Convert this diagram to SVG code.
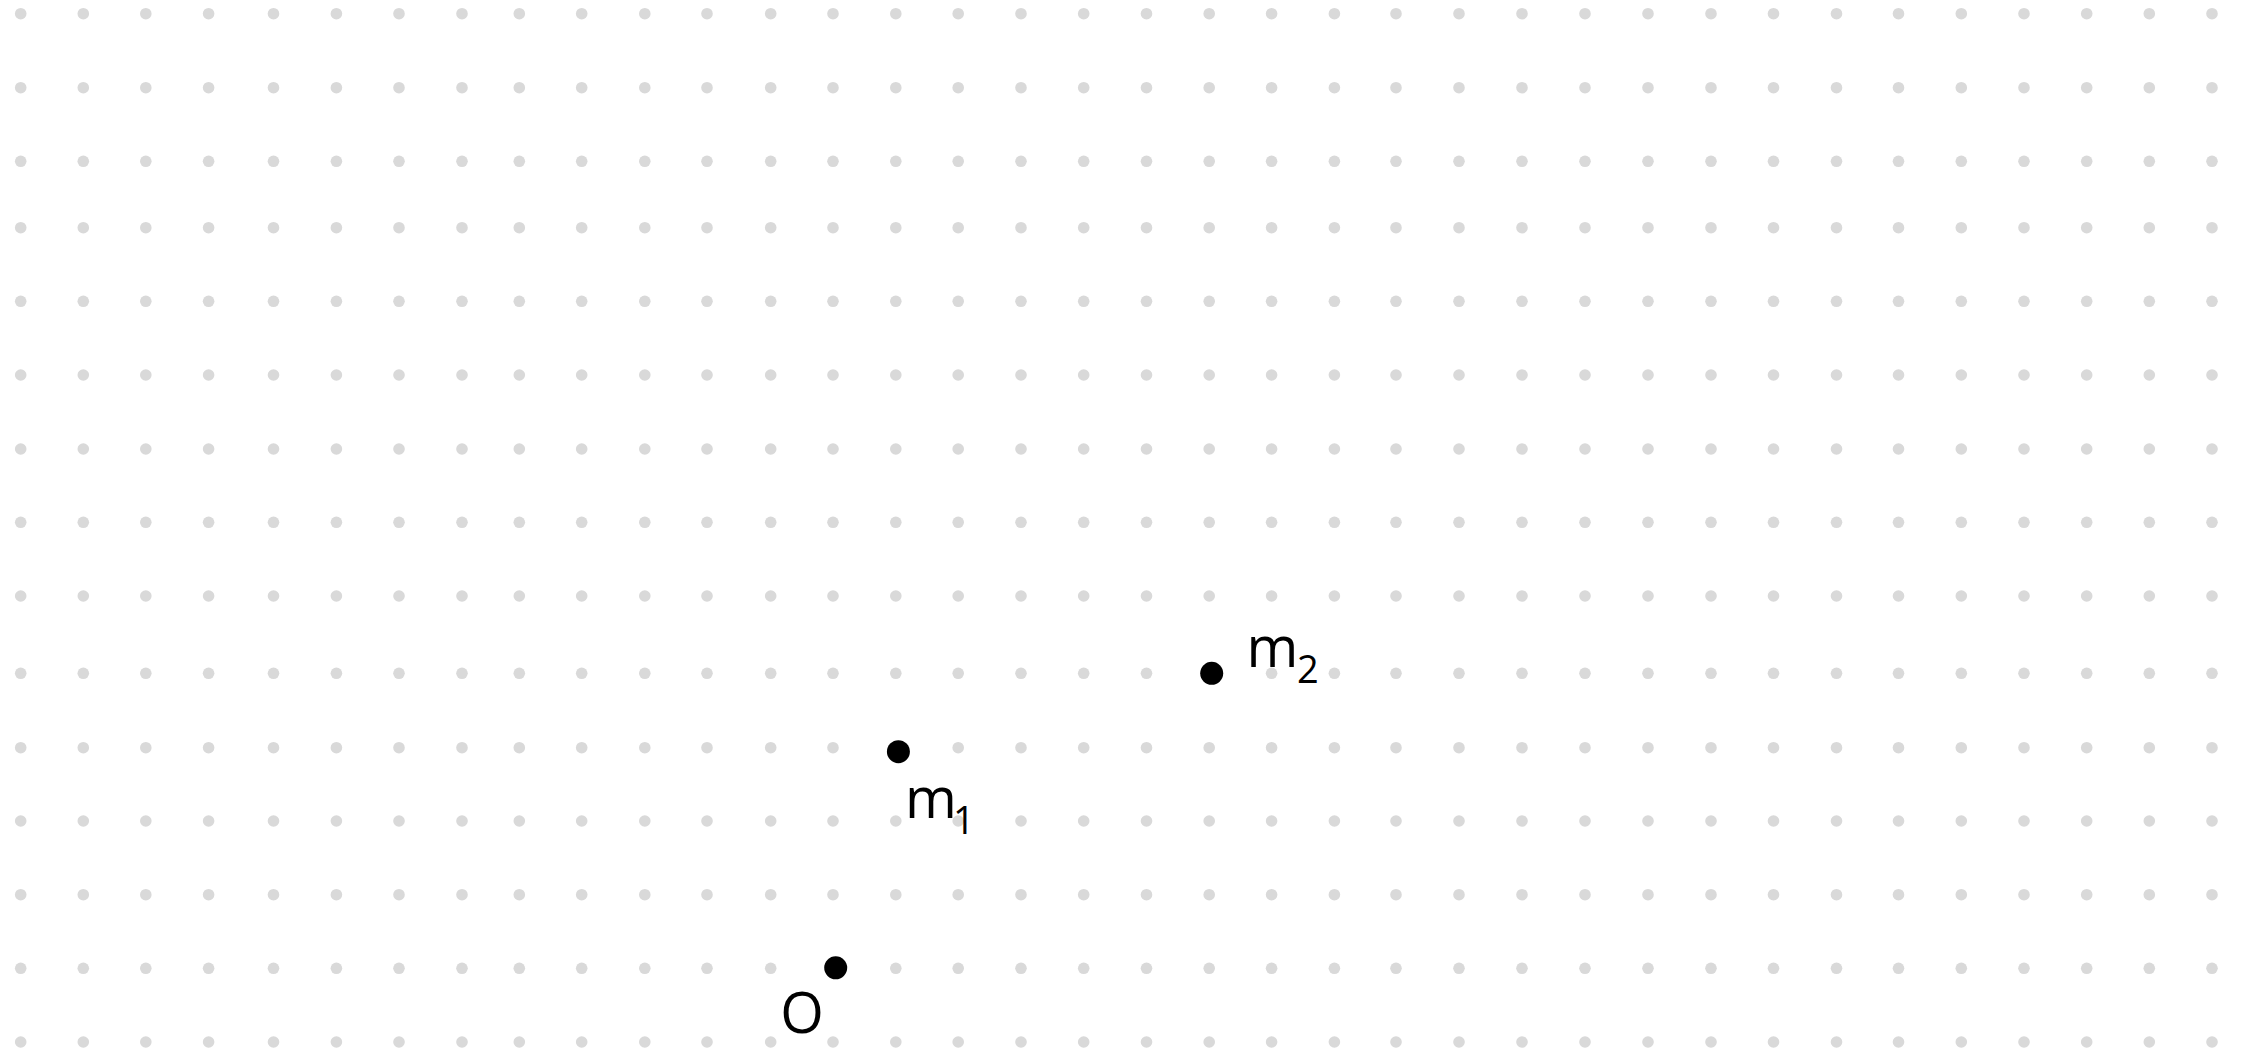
<svg xmlns="http://www.w3.org/2000/svg" xmlns:xlink="http://www.w3.org/1999/xlink" width="2242" height="1052" viewBox="0 0 2242 1052">
  <style>
    .g { fill: #d9d9d9; }
    .pt { fill: #000000; }
    .lbl { font-family: "Open Sans", Lato, "Liberation Sans", sans-serif; font-size: 56px; fill: #000000; }
    .sub { font-family: "Open Sans", Lato, "Liberation Sans", sans-serif; font-size: 38px; fill: #000000; }
  </style>
  <defs>
    <g id="row">
      <circle class="g" cx="20.7" cy="0" r="5.8"/>
      <circle class="g" cx="83.3" cy="0" r="5.8"/>
      <circle class="g" cx="145.8" cy="0" r="5.8"/>
      <circle class="g" cx="208.6" cy="0" r="5.8"/>
      <circle class="g" cx="273.5" cy="0" r="5.8"/>
      <circle class="g" cx="336.4" cy="0" r="5.8"/>
      <circle class="g" cx="399" cy="0" r="5.8"/>
      <circle class="g" cx="462" cy="0" r="5.8"/>
      <circle class="g" cx="519.3" cy="0" r="5.8"/>
      <circle class="g" cx="581.7" cy="0" r="5.8"/>
      <circle class="g" cx="644.8" cy="0" r="5.8"/>
      <circle class="g" cx="707" cy="0" r="5.8"/>
      <circle class="g" cx="770.7" cy="0" r="5.8"/>
      <circle class="g" cx="833" cy="0" r="5.8"/>
      <circle class="g" cx="895.8" cy="0" r="5.8"/>
      <circle class="g" cx="958.2" cy="0" r="5.8"/>
      <circle class="g" cx="1021" cy="0" r="5.8"/>
      <circle class="g" cx="1083.7" cy="0" r="5.8"/>
      <circle class="g" cx="1146.5" cy="0" r="5.8"/>
      <circle class="g" cx="1209.2" cy="0" r="5.8"/>
      <circle class="g" cx="1271.6" cy="0" r="5.8"/>
      <circle class="g" cx="1334.4" cy="0" r="5.8"/>
      <circle class="g" cx="1396" cy="0" r="5.8"/>
      <circle class="g" cx="1459" cy="0" r="5.8"/>
      <circle class="g" cx="1522" cy="0" r="5.8"/>
      <circle class="g" cx="1585" cy="0" r="5.8"/>
      <circle class="g" cx="1648" cy="0" r="5.8"/>
      <circle class="g" cx="1711" cy="0" r="5.8"/>
      <circle class="g" cx="1773.5" cy="0" r="5.8"/>
      <circle class="g" cx="1836.5" cy="0" r="5.8"/>
      <circle class="g" cx="1898.5" cy="0" r="5.8"/>
      <circle class="g" cx="1961.3" cy="0" r="5.8"/>
      <circle class="g" cx="2024" cy="0" r="5.8"/>
      <circle class="g" cx="2086.7" cy="0" r="5.8"/>
      <circle class="g" cx="2149.3" cy="0" r="5.8"/>
      <circle class="g" cx="2212" cy="0" r="5.8"/>
    </g>
  </defs>
  <rect x="0" y="0" width="2242" height="1052" fill="#ffffff"/>
  <g id="grid">
    <use xlink:href="#row" href="#row" y="13.7"/>
    <use xlink:href="#row" href="#row" y="87.7"/>
    <use xlink:href="#row" href="#row" y="161.3"/>
    <use xlink:href="#row" href="#row" y="227.7"/>
    <use xlink:href="#row" href="#row" y="301.3"/>
    <use xlink:href="#row" href="#row" y="375"/>
    <use xlink:href="#row" href="#row" y="449"/>
    <use xlink:href="#row" href="#row" y="522.3"/>
    <use xlink:href="#row" href="#row" y="596"/>
    <use xlink:href="#row" href="#row" y="673.3"/>
    <use xlink:href="#row" href="#row" y="747.7"/>
    <use xlink:href="#row" href="#row" y="821"/>
    <use xlink:href="#row" href="#row" y="894.7"/>
    <use xlink:href="#row" href="#row" y="968.3"/>
    <use xlink:href="#row" href="#row" y="1042"/>
  </g>
  <g id="connectors"></g>
  <g id="node-O">
    <circle class="pt" cx="835.7" cy="967.8" r="11.5"/>
    <text class="lbl" x="802" y="1033" text-anchor="middle">O</text>
  </g>
  <g id="node-m1">
    <circle class="pt" cx="898.4" cy="751.7" r="11.5"/>
    <text class="lbl" x="905" y="818.3">m</text>
    <text class="sub" x="953" y="833.5">1</text>
  </g>
  <g id="node-m2">
    <circle class="pt" cx="1211.7" cy="673.3" r="11.5"/>
    <text class="lbl" x="1246.5" y="666.7">m</text>
    <text class="sub" x="1297" y="682.7">2</text>
  </g>
</svg>
